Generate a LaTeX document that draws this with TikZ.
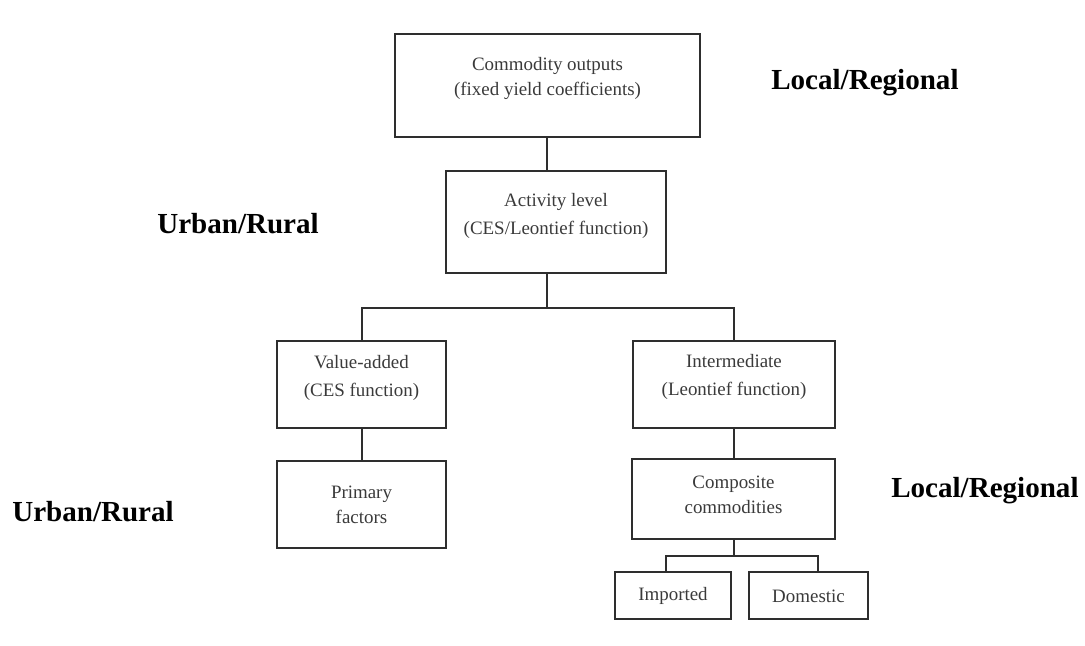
\documentclass[tikz,border=0pt]{standalone}
\usepackage{fontspec}
\setmainfont{Liberation Serif}
\usetikzlibrary{fit}
\definecolor{linec}{HTML}{2E2E2E}
\definecolor{textc}{HTML}{3A3A3A}
\begin{document}
\begin{tikzpicture}[x=0.75pt,y=-0.75pt,
  box/.style={draw=linec, line width=1.4pt, inner sep=0pt, rectangle},
  txt/.style={text=textc, align=center, inner sep=0pt, font=\fontsize{14.2}{21}\selectfont},
  txtb/.style={txt, font=\fontsize{14.2}{19}\selectfont},
  lbl/.style={inner sep=0pt, text=black, font=\fontsize{21.8}{26}\selectfont\bfseries},
  conn/.style={draw=linec, line width=1.4pt}]
\useasboundingbox[fill=white] (0,0) rectangle (1085,646);

% boxes
\node[box, fit={(395,34) (700,137)}] (top) {};
\node[box, fit={(446,171) (666,273)}] (act) {};
\node[box, fit={(277,341) (446,428)}] (va) {};
\node[box, fit={(633,341) (835,428)}] (int) {};
\node[box, fit={(277,461) (446,548)}] (prim) {};
\node[box, fit={(632,459) (835,539)}] (comp) {};
\node[box, fit={(615,572) (731,619)}] (imp) {};
\node[box, fit={(749,572) (868,619)}] (dom) {};

% box texts
\node[txt, font=\fontsize{14.2}{18.5}\selectfont] (topT) at (547.5,78.5) {Commodity outputs\\(fixed yield coefficients)};
\node[txt] (actT) at (556,216) {Activity level\\(CES/Leontief function)};
\node[txt] (vaT) at (361.5,377.5) {Value-added\\(CES function)};
\node[txt] (intT) at (734,377) {Intermediate\\(Leontief function)};
\node[txtb] (primT) at (361.5,505) {Primary\\factors};
\node[txtb] (compT) at (733.5,494.5) {Composite\\commodities};
\node[txt] (impT) at (673,596) {Imported};
\node[txt] (domT) at (808.5,596) {Domestic};

% labels
\node[lbl, anchor=base west] (lr1) at (771,89) {Local/Regional};
\node[lbl, anchor=base west] (ur1) at (157,233) {Urban/Rural};
\node[lbl, anchor=base west] (ur2) at (12,521) {Urban/Rural};
\node[lbl, anchor=base west] (lr2) at (891,497) {Local/Regional};

% connectors
\coordinate (bar) at (547,308);
\coordinate (vx) at (362,308);
\coordinate (sL) at (666,556);
\coordinate (sR) at (818,556);
\draw[conn] (bar |- top.south) -- (bar |- act.north);
\draw[conn] (bar |- act.south) -- (bar);
\draw[conn] (vx |- va.north) -- (vx) -- (int.north |- bar) -- (int.north);
\draw[conn] (vx |- va.south) -- (vx |- prim.north);
\draw[conn] (int.south) -- (int.south |- comp.north);
\draw[conn] (comp.south -| int.south) -- (sL -| int.south);
\draw[conn] (sL |- imp.north) -- (sL) -- (sR) -- (sR |- dom.north);
\end{tikzpicture}
\end{document}
